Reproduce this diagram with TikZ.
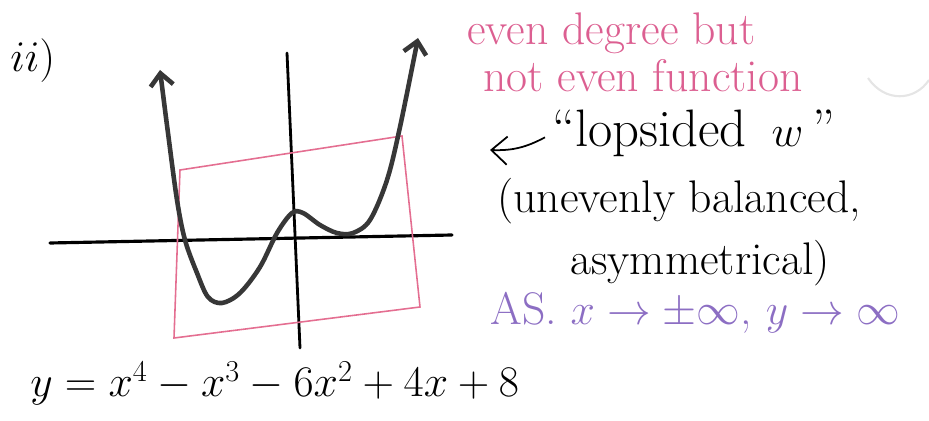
\documentclass[tikz,border=0pt]{standalone}
\usepackage{amsmath}
\usepackage{amssymb}
\usetikzlibrary{arrows.meta}
\definecolor{penpink}{RGB}{220,95,145}
\definecolor{boxpink}{RGB}{228,110,145}
\definecolor{penpurple}{RGB}{140,110,195}
\definecolor{pencil}{RGB}{55,55,55}
\tikzset{hand/.style={font=\fontsize{26}{31}\selectfont, inner sep=0pt},
  bighand/.style={font=\fontsize{30}{36}\selectfont, inner sep=0pt},
  barb/.style={-{Straight Barb[length=9pt,width=16pt]}},
  twobarb/.style={{Straight Barb[length=7pt,width=13pt]}-{Straight Barb[length=7pt,width=13pt]}}}

\begin{document}
\begin{tikzpicture}[x=0.02cm, y=-0.02cm]
      \useasboundingbox (0,0) rectangle (929,421);

      % axes
      \coordinate (xl) at (50,243);
      \coordinate (xr) at (452,235);
      \coordinate (yt) at (287,53);
      \coordinate (yb) at (300,348);
      \draw [black, line width=1.8pt, line cap=round] (xl) -- (xr);
      \draw [black, line width=1.6pt, line cap=round] (yt) -- (yb);

      % the box
      \draw [boxpink, line width=0.9pt] (180,170) -- (402,136) -- (420,307) -- (174,338) -- cycle;

      % the quartic
      \draw [pencil, line width=2.6pt, line cap=round, twobarb] plot [smooth, tension=0.55] coordinates {(160,70) (168,133) (177,200) (185,240) (197,273) (208,297) (222,303) (240,293) (260,267) (277,233) (292,213) (303,213) (320,225) (337,233) (353,233) (370,220) (387,180) (400,127) (418,38)};

      \node [bighand, anchor=base west] (part) at (10,72) {$ii)$};

      \node [hand, penpink, anchor=base west] (even1) at (467,45) {even degree but};
      \node [hand, penpink, anchor=base west] (even2) at (483,92) {not even function};

      \node [bighand, anchor=base west] (lopsided) at (552,147) {``lopsided \,$w$\,''};
      \node [hand, anchor=base west] (uneven) at (497,213) {(unevenly balanced,};
      \node [hand, anchor=base west] (asym) at (570,275) {asymmetrical)};
      \node [hand, penpurple, anchor=base west] (limit) at (490,325) {AS. $x\rightarrow\pm\infty$, $y\rightarrow\infty$};

      \node [hand, anchor=base west] (eqn) at (30,397) {$y=x^4-x^3-6x^2+4x+8$};

      \coordinate (wtip) at (490,150);
      \draw [black, line width=1pt, barb] ([xshift=-4pt, yshift=-2pt]lopsided.west) to [bend left=15] (wtip);

      % faint ring at the right
      \draw [gray!20, line width=1.2pt] (868,78) .. controls (885,103) and (915,101) .. (929,80);
    \end{tikzpicture}
\end{document}
